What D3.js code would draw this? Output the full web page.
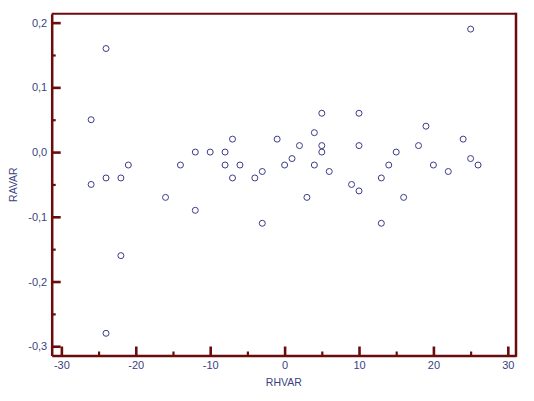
<!DOCTYPE html>
<html>
<head>
<meta charset="utf-8">
<script src="https://cdn.jsdelivr.net/npm/d3@7"></script>
<style>
  html, body { margin: 0; padding: 0; background: #ffffff; }
  svg { display: block; }
</style>
</head>
<body>
<script>
// ---- data ----
const rhvar = [-26, -26, -24, -24, -24, -22, -22, -21, -16, -14, -12, -12, -10, -8, -8, -7, -7, -6, -4, -3, -3,
  -1, 0, 1, 2, 3, 4, 4, 5, 5, 5, 6, 9, 10, 10, 10, 13, 13, 14, 15, 16, 18, 19, 20, 22, 24, 25, 25, 26];
const ravar = [0.05, -0.05, 0.16, -0.04, -0.28, -0.04, -0.16, -0.02, -0.07, -0.02, 0.00, -0.09, 0.00, 0.00, -0.02, 0.02, -0.04, -0.02, -0.04, -0.03, -0.11,
  0.02, -0.02, -0.01, 0.01, -0.07, 0.03, -0.02, 0.06, 0.01, 0.00, -0.03, -0.05, 0.06, 0.01, -0.06, -0.04, -0.11, -0.02, 0.00, -0.07, 0.01, 0.04, -0.02, -0.03, 0.02, 0.19, -0.01, -0.02];
const xMajorTicks = [-30, -20, -10, 0, 10, 20, 30];
const xTickLabels = ["-30", "-20", "-10", "0", "10", "20", "30"];
const xMinorTicks = [-25, -15, -5, 5, 15, 25];
const yMajorTicks = [-0.3, -0.2, -0.1, 0, 0.1, 0.2];
const yTickLabels = ["-0,3", "-0,2", "-0,1", "0,0", "0,1", "0,2"];
const yMinorTicks = [-0.25, -0.15, -0.05, 0.05, 0.15];
const xTitle = "RHVAR";
const yTitle = "RAVAR";

// ---- layout ----
const W = 534, H = 401;
const L = 51.7, R = 516, T = 13.7, B = 355.5;
const axisColor = "#6b0c0c";
const textColor = "#3b3f80";
const markColor = "#3c3c8a";
const font = "Arial, 'Liberation Sans', sans-serif";

const x = d3.scaleLinear().domain([-31.3, 31.1]).range([L, R]);
const y = d3.scaleLinear().domain([-0.3143, 0.2138]).range([B, T]);

const svg = d3.select("body").append("svg").attr("width", W).attr("height", H);

// frame top & right
svg.append("line").attr("x1", L).attr("x2", R).attr("y1", T).attr("y2", T)
  .attr("stroke", axisColor).attr("stroke-width", 2);
svg.append("line").attr("x1", R).attr("x2", R).attr("y1", T - 1).attr("y2", B + 1.2)
  .attr("stroke", axisColor).attr("stroke-width", 2.5);

// y axis (major)
const yAxisG = svg.append("g").attr("transform", `translate(${L},0)`)
  .call(d3.axisLeft(y).tickValues(yMajorTicks).tickSizeInner(-9).tickSizeOuter(0).tickPadding(4.5)
    .tickFormat((d, i) => yTickLabels[i]));
// y axis minor
const yMinorG = svg.append("g").attr("transform", `translate(${L},0)`)
  .call(d3.axisLeft(y).tickValues(yMinorTicks).tickSizeInner(-4).tickSizeOuter(0).tickFormat(""));

// x axis (major)
const xAxisG = svg.append("g").attr("transform", `translate(0,${B})`)
  .call(d3.axisBottom(x).tickValues(xMajorTicks).tickSizeInner(-9).tickSizeOuter(0).tickPadding(6)
    .tickFormat((d, i) => xTickLabels[i]));
const xMinorG = svg.append("g").attr("transform", `translate(0,${B})`)
  .call(d3.axisBottom(x).tickValues(xMinorTicks).tickSizeInner(-4).tickSizeOuter(0).tickFormat(""));

[yAxisG, yMinorG, xAxisG, xMinorG].forEach(g => {
  g.select(".domain").attr("stroke", axisColor).attr("stroke-width", 2.5);
  g.selectAll(".tick line").attr("stroke", axisColor).attr("stroke-width", 2.2);
  g.selectAll(".tick text").attr("fill", textColor).style("font-family", font).style("font-size", "11px");
});
yMinorG.select(".domain").remove();
xMinorG.select(".domain").remove();
yAxisG.selectAll(".tick line").attr("stroke-width", 2.6);
xAxisG.selectAll(".tick line").attr("stroke-width", 2.6);

// axis titles
svg.append("text").attr("x", (L + R) / 2).attr("y", 386)
  .attr("text-anchor", "middle").attr("fill", textColor)
  .style("font-family", font).style("font-size", "10.5px").text(xTitle);
svg.append("text").attr("transform", `translate(16.5,${(T + B) / 2}) rotate(-90)`)
  .attr("text-anchor", "middle").attr("fill", textColor)
  .style("font-family", font).style("font-size", "10.5px").text(yTitle);

// points
svg.append("g").selectAll("circle").data(rhvar.map((v, i) => [v, ravar[i]])).join("circle")
  .attr("cx", d => x(d[0])).attr("cy", d => y(d[1])).attr("r", 3)
  .attr("fill", "none").attr("stroke", markColor).attr("stroke-width", 1);
</script>
</body>
</html>
